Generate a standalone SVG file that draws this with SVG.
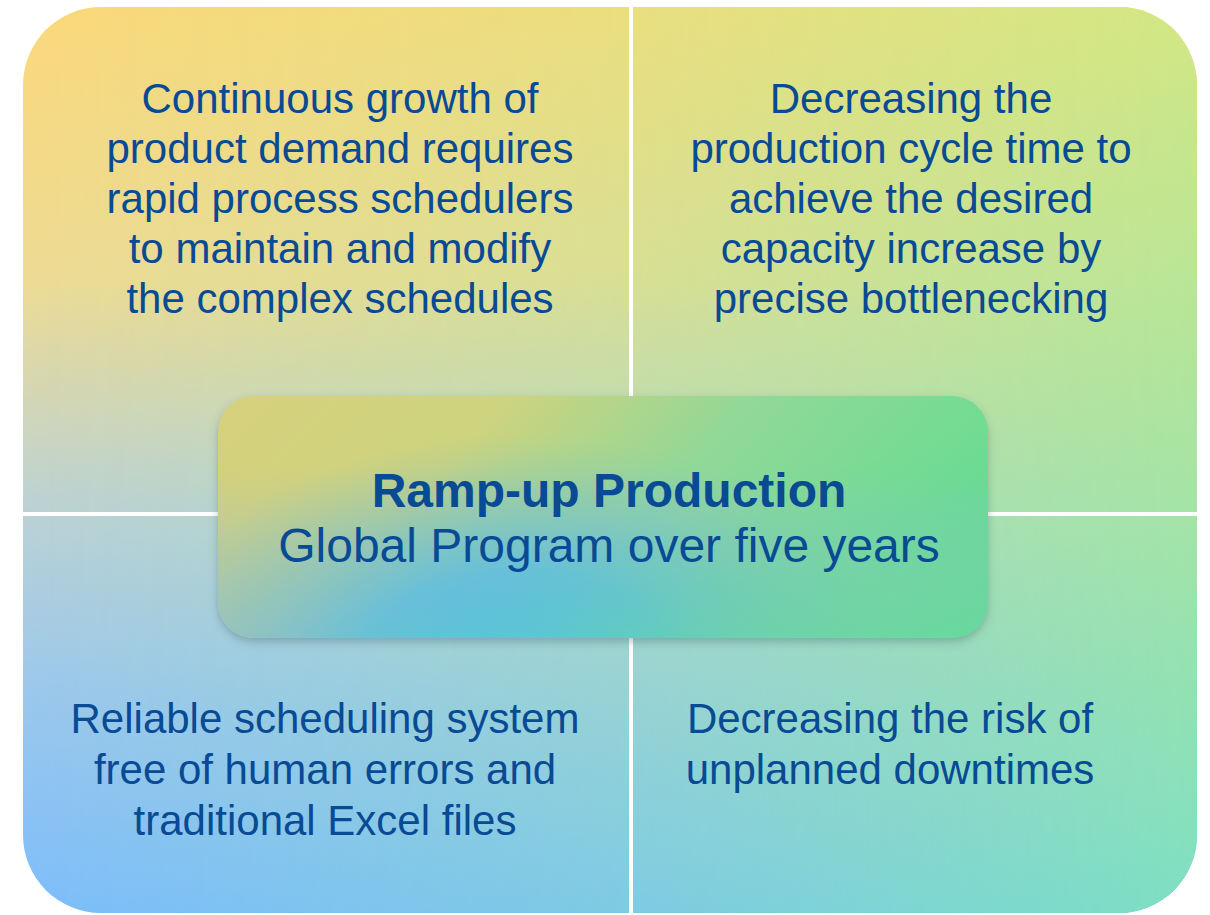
<svg xmlns="http://www.w3.org/2000/svg" width="1210" height="915" viewBox="0 0 1210 915">
<defs>
<linearGradient id="leftCol" x1="0" y1="0" x2="0" y2="1">
<stop offset="0" stop-color="#FBD87B"/>
<stop offset="0.3" stop-color="#EEDB94"/>
<stop offset="0.55" stop-color="#BCD2D4"/>
<stop offset="0.75" stop-color="#9CC8EC"/>
<stop offset="1" stop-color="#7DBDFB"/>
</linearGradient>
<linearGradient id="rightCol" x1="0" y1="0" x2="0" y2="1">
<stop offset="0" stop-color="#D2E784"/>
<stop offset="0.5" stop-color="#A8E4A2"/>
<stop offset="1" stop-color="#7EDFC2"/>
</linearGradient>
<linearGradient id="hMask" x1="0" y1="0" x2="1" y2="0">
<stop offset="0" stop-color="#fff" stop-opacity="0"/>
<stop offset="0.5" stop-color="#fff" stop-opacity="0.4"/>
<stop offset="1" stop-color="#fff" stop-opacity="1"/>
</linearGradient>
<mask id="rightMask" maskUnits="userSpaceOnUse" x="0" y="0" width="1210" height="915">
<rect x="23" y="7" width="1174" height="906" fill="url(#hMask)"/>
</mask>
<linearGradient id="boxBase" x1="0" y1="0" x2="1" y2="0.3">
<stop offset="0" stop-color="#D6D07C"/>
<stop offset="0.35" stop-color="#CDD37E"/>
<stop offset="0.65" stop-color="#90D898"/>
<stop offset="1" stop-color="#6CDC90"/>
</linearGradient>
<radialGradient id="boxBlue" gradientUnits="userSpaceOnUse" cx="520" cy="660" r="300" gradientTransform="translate(520 660) scale(1.25 0.75) translate(-520 -660)">
<stop offset="0" stop-color="#56BCF0" stop-opacity="1"/>
<stop offset="0.4" stop-color="#5EBEE0" stop-opacity="0.85"/>
<stop offset="1" stop-color="#7EC4C0" stop-opacity="0"/>
</radialGradient>
<linearGradient id="boxBL" x1="0" y1="0" x2="0" y2="1">
<stop offset="0.3" stop-color="#9CC0C4" stop-opacity="0"/>
<stop offset="1" stop-color="#98C0C8" stop-opacity="0.8"/>
</linearGradient>
<linearGradient id="boxBR" x1="0" y1="0" x2="1" y2="1">
<stop offset="0.55" stop-color="#62D8A0" stop-opacity="0"/>
<stop offset="1" stop-color="#62DC98" stop-opacity="0.9"/>
</linearGradient>
<filter id="shadow" x="-10%" y="-10%" width="120%" height="130%">
<feDropShadow dx="0" dy="4" stdDeviation="4" flood-color="#3a5a6a" flood-opacity="0.35"/>
</filter>
<style>
.t { font-family: "Liberation Sans", Arial, sans-serif; font-size: 42px; fill: #084A94; text-anchor: middle; }
.c { font-family: "Liberation Sans", Arial, sans-serif; font-size: 48px; fill: #084A94; text-anchor: middle; }
.b { font-weight: bold; }
.div { fill: #ffffff; }
</style>
</defs>
<rect width="1210" height="915" fill="#ffffff"/>
<g id="background">
<rect x="23" y="7" width="1174" height="906" rx="78" ry="78" fill="url(#leftCol)"/>
<rect x="23" y="7" width="1174" height="906" rx="78" ry="78" fill="url(#rightCol)" mask="url(#rightMask)"/>
</g>
<g id="connectors">
<rect class="div" x="629" y="0" width="4" height="400"/>
<rect class="div" x="629" y="635" width="4" height="280"/>
<rect class="div" x="20" y="512" width="205" height="4"/>
<rect class="div" x="980" y="512" width="220" height="4"/>
</g>
<g id="node-top-left">
<text class="t" x="340" y="113">Continuous growth of</text>
<text class="t" x="340" y="163">product demand requires</text>
<text class="t" x="340" y="213">rapid process schedulers</text>
<text class="t" x="340" y="263">to maintain and modify</text>
<text class="t" x="340" y="313">the complex schedules</text>
</g>
<g id="node-top-right">
<text class="t" x="911" y="113">Decreasing the</text>
<text class="t" x="911" y="163">production cycle time to</text>
<text class="t" x="911" y="213">achieve the desired</text>
<text class="t" x="911" y="263">capacity increase by</text>
<text class="t" x="911" y="313">precise bottlenecking</text>
</g>
<g id="node-bottom-left">
<text class="t" x="325" y="733">Reliable scheduling system</text>
<text class="t" x="325" y="784">free of human errors and</text>
<text class="t" x="325" y="835">traditional Excel files</text>
</g>
<g id="node-bottom-right">
<text class="t" x="890" y="733">Decreasing the risk of</text>
<text class="t" x="890" y="784">unplanned downtimes</text>
</g>
<g id="node-center">
<g filter="url(#shadow)">
<rect x="218" y="396" width="770" height="242" rx="36" ry="36" fill="url(#boxBase)"/>
</g>
<rect x="218" y="396" width="770" height="242" rx="36" ry="36" fill="url(#boxBL)"/>
<rect x="218" y="396" width="770" height="242" rx="36" ry="36" fill="url(#boxBlue)"/>
<rect x="218" y="396" width="770" height="242" rx="36" ry="36" fill="url(#boxBR)"/>
<text class="c b" x="609" y="507">Ramp-up Production</text>
<text class="c" x="609" y="562">Global Program over five years</text>
</g>
</svg>
